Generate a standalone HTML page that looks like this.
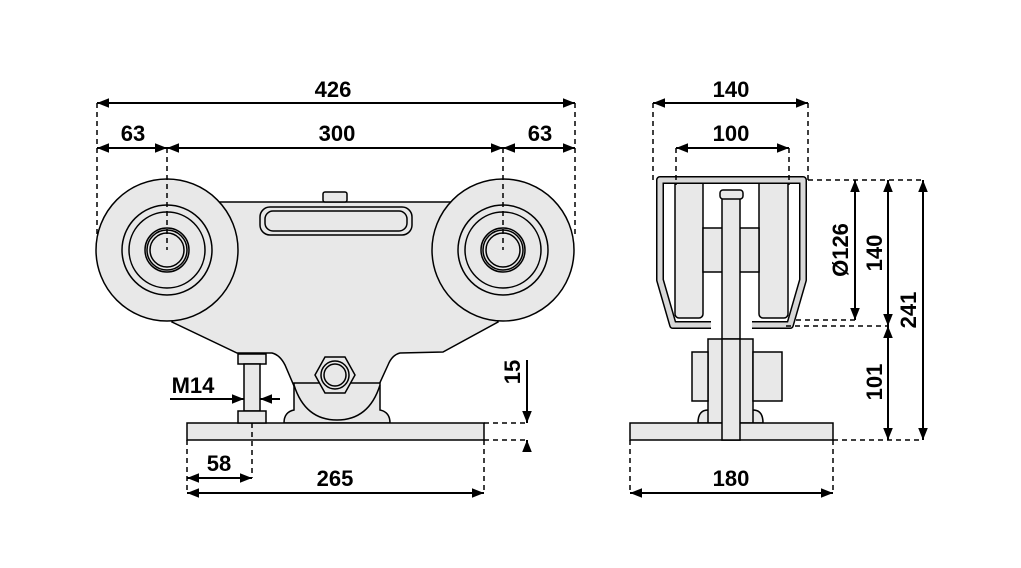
<!DOCTYPE html>
<html><head><style>
html,body{margin:0;padding:0;background:#fff}
svg{display:block}
text{font-family:"Liberation Sans Narrow","Liberation Sans",sans-serif;font-weight:bold;font-size:22px;fill:#000}
</style></head><body>
<svg width="1021" height="568" viewBox="0 0 1021 568" xmlns="http://www.w3.org/2000/svg">
<defs>
<marker id="a" viewBox="0 0 10 10" refX="10" refY="5" markerWidth="6" markerHeight="6" orient="auto-start-reverse"><path d="M0,1 L10,5 L0,9 z" fill="#000"/></marker>
</defs>
<g fill="#e8e8e8" stroke="#000" stroke-width="1.5">
<path d="M220,202 L452,202 L498,322 L443,352 L400,353 Q392,355 388,365 L372,400 Q345,428 300,400 L285,365 Q280,355 272,353 L237,353 L172,322 Z"/>
<path d="M284,423 Q284,412 294,410 L294,383 L380,383 L380,410 Q390,412 390,423 Z"/>
<path d="M294,385 Q305,420 337,420 Q369,420 380,385"/>
<rect x="187" y="423" width="297" height="17"/>
<circle cx="167" cy="250" r="71"/>
<circle cx="167" cy="250" r="45"/><circle cx="167" cy="250" r="38"/>
<circle cx="167" cy="250" r="22"/><circle cx="167" cy="250" r="20"/><circle cx="167" cy="250" r="17"/>
<circle cx="503" cy="250" r="71"/>
<circle cx="503" cy="250" r="45"/><circle cx="503" cy="250" r="38"/>
<circle cx="503" cy="250" r="22"/><circle cx="503" cy="250" r="20"/><circle cx="503" cy="250" r="17"/>
<rect x="260" y="207" width="152" height="28" rx="10"/>
<rect x="265" y="211" width="142" height="20" rx="8"/>
<rect x="323" y="192" width="24" height="10" rx="2"/>
<polygon points="315,375 325,357 345,357 355,375 345,393 325,393"/>
<circle cx="335" cy="375" r="14"/><circle cx="335" cy="375" r="11"/>
<rect x="238" y="354" width="28" height="10"/>
<rect x="244" y="364" width="16" height="47"/>
<rect x="238" y="411" width="28" height="12"/>
<rect x="675" y="180" width="28" height="138" rx="4"/>
<rect x="759" y="180" width="29" height="138" rx="4"/>
<rect x="703" y="228" width="56" height="44"/>
<rect x="722" y="195" width="18" height="245"/>
<rect x="720" y="190" width="23" height="9" rx="3"/>
<path d="M698,423 Q698,410 708,410 L753,410 Q763,410 763,423 Z"/>
<rect x="708" y="339" width="45" height="84"/>
<rect x="692" y="352" width="16" height="49"/>
<rect x="753" y="352" width="29" height="49"/>
<rect x="630" y="423" width="203" height="17"/>
<rect x="722" y="339" width="18" height="101"/>
</g>
<path d="M711,325 L673,325 L660,280 L660,180 L803,180 L803,280 L790,325 L752,325" fill="none" stroke="#000" stroke-width="8" stroke-linejoin="round"/>
<path d="M711,325 L673,325 L660,280 L660,180 L803,180 L803,280 L790,325 L752,325" fill="none" stroke="#d8d8d8" stroke-width="5" stroke-linejoin="round"/>
<g stroke="#000" stroke-width="1.5" stroke-dasharray="5,4" fill="none">
<line x1="97" y1="103" x2="97" y2="235"/><line x1="575" y1="103" x2="575" y2="235"/>
<line x1="167" y1="148" x2="167" y2="250"/><line x1="503" y1="148" x2="503" y2="250"/>
<line x1="187" y1="440" x2="187" y2="493"/><line x1="252" y1="423" x2="252" y2="478"/><line x1="484" y1="440" x2="484" y2="493"/>
<line x1="484" y1="423" x2="527" y2="423"/><line x1="484" y1="440" x2="527" y2="440"/>
<line x1="653" y1="103" x2="653" y2="180"/><line x1="808" y1="103" x2="808" y2="180"/>
<line x1="676" y1="148" x2="676" y2="185"/><line x1="789" y1="148" x2="789" y2="185"/>
<line x1="808" y1="180" x2="923" y2="180"/>
<line x1="796" y1="320" x2="855" y2="320"/><line x1="786" y1="326" x2="888" y2="326"/>
<line x1="833" y1="440" x2="923" y2="440"/>
<line x1="630" y1="440" x2="630" y2="493"/><line x1="833" y1="440" x2="833" y2="493"/>
</g>
<g stroke="#000" stroke-width="2" fill="none" marker-start="url(#a)" marker-end="url(#a)">
<line x1="97" y1="103" x2="575" y2="103"/>
<line x1="97" y1="148" x2="167" y2="148"/><line x1="167" y1="148" x2="503" y2="148"/><line x1="503" y1="148" x2="575" y2="148"/>
<line x1="187" y1="478" x2="252" y2="478"/><line x1="187" y1="493" x2="484" y2="493"/>
<line x1="653" y1="103" x2="808" y2="103"/><line x1="676" y1="148" x2="789" y2="148"/>
<line x1="630" y1="493" x2="833" y2="493"/>
<line x1="855" y1="180" x2="855" y2="320"/><line x1="888" y1="180" x2="888" y2="326"/>
<line x1="888" y1="326" x2="888" y2="440"/><line x1="923" y1="180" x2="923" y2="440"/>
</g>
<g stroke="#000" stroke-width="2" fill="none">
<line x1="527" y1="360" x2="527" y2="423" marker-end="url(#a)"/>
<line x1="527" y1="450" x2="527" y2="440" marker-end="url(#a)"/>
<line x1="170" y1="399" x2="244" y2="399" marker-end="url(#a)"/>
<line x1="280" y1="399" x2="260" y2="399" marker-end="url(#a)"/>
</g>
<g text-anchor="middle">
<text x="333" y="97">426</text>
<text x="133" y="141">63</text><text x="337" y="141">300</text><text x="540" y="141">63</text>
<text x="193" y="393">M14</text>
<text x="219" y="471">58</text><text x="335" y="486">265</text>
<text x="731" y="97">140</text><text x="731" y="141">100</text>
<text x="731" y="486">180</text>
<text transform="translate(520,372) rotate(-90)">15</text>
<text transform="translate(848,250) rotate(-90)">Ø126</text>
<text transform="translate(882,253) rotate(-90)">140</text>
<text transform="translate(916,310) rotate(-90)">241</text>
<text transform="translate(882,382) rotate(-90)">101</text>
</g>
</svg>
</body></html>
